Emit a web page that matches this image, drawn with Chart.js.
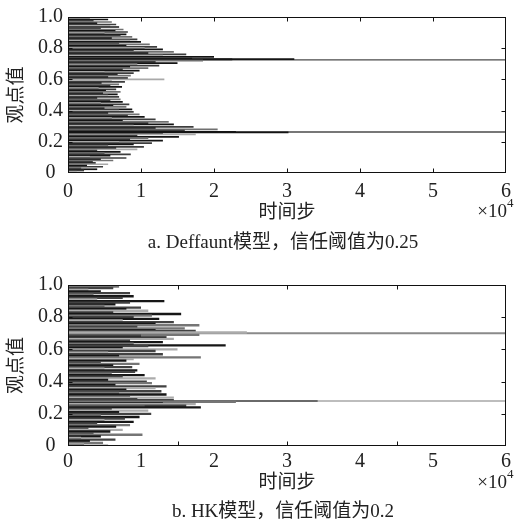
<!DOCTYPE html>
<html>
<head>
<meta charset="utf-8">
<script src="https://cdn.jsdelivr.net/npm/chart.js@4.4.1/dist/chart.umd.min.js"></script>
<style>
  html, body { margin: 0; padding: 0; background: #fff; }
  canvas { display: block; }
</style>
</head>
<body>
<canvas id="deffuant" width="518" height="262"></canvas>
<canvas id="hk" width="518" height="265"></canvas>
<script>
const xTickLabels = ['0', '1', '2', '3', '4', '5', '6'];
const yTickLabels = ['0', '0.2', '0.4', '0.6', '0.8', '1.0'];

// Deffuant model, trust threshold 0.25 -- [opinion, last step (x10^4)]
const deffBlack = [[0.000,0.30],[0.024,0.40],[0.048,0.26],[0.064,0.38],[0.088,0.45],[0.112,0.58],[0.136,0.72],
  [0.160,0.66],[0.184,0.90],[0.208,1.30],[0.232,1.52],[0.256,1.30],[0.260,3.02],[0.264,2.30],[0.288,1.20],
  [0.312,1.45],[0.336,0.75],[0.360,1.05],[0.384,0.55],[0.408,0.88],[0.432,0.62],[0.456,0.75],[0.480,0.40],
  [0.504,0.68],[0.528,0.52],[0.552,0.74],[0.576,0.46],[0.608,0.82],[0.632,0.68],[0.656,0.98],[0.680,0.85],
  [0.704,1.50],[0.728,2.25],[0.730,3.10],[0.744,2.00],[0.768,1.10],[0.792,1.30],[0.816,0.80],[0.840,1.00],
  [0.864,0.60],[0.888,0.80],[0.912,0.65],[0.936,0.70],[0.960,0.40],[0.984,0.55]];
const deffDark = [[0.016,0.22],[0.040,0.48],[0.072,0.34],[0.096,0.80],[0.120,0.86],[0.144,0.40],[0.168,1.04],
  [0.192,1.15],[0.216,0.85],[0.240,0.95],[0.272,1.60],[0.296,1.72],[0.320,1.10],[0.344,1.20],[0.368,0.82],
  [0.392,0.90],[0.416,0.50],[0.440,0.84],[0.464,0.58],[0.488,0.70],[0.512,0.48],[0.536,0.66],[0.560,0.58],
  [0.584,0.78],[0.616,0.55],[0.640,0.90],[0.664,0.75],[0.688,1.25],[0.712,1.20],[0.736,1.70],[0.760,1.62],
  [0.784,0.90],[0.808,1.22],[0.832,0.70],[0.856,0.95],[0.880,0.72],[0.904,0.82],[0.928,0.45],[0.952,0.66],
  [0.976,0.35],[1.000,0.52]];
const deffMid = [[0.032,0.18],[0.080,0.62],[0.128,0.50],[0.176,0.55],[0.224,1.10],[0.280,2.05],[0.328,1.38],
  [0.376,0.98],[0.424,0.80],[0.472,0.72],[0.520,0.72],[0.568,0.70],[0.624,0.86],[0.672,1.10],[0.720,1.85],
  [0.776,1.45],[0.824,1.12],[0.872,0.88],[0.920,0.76],[0.968,0.60]];
const deffLight = [[0.008,0.12],[0.056,0.55],[0.104,0.30],[0.152,0.95],[0.200,0.70],[0.248,1.75],[0.304,0.90],
  [0.352,0.60],[0.400,0.70],[0.448,0.45],[0.496,0.55],[0.544,0.42],[0.592,0.60],[0.600,1.32],[0.648,0.50],
  [0.696,0.95],[0.752,1.30],[0.800,1.05],[0.848,0.85],[0.896,0.50],[0.944,0.58],[0.992,0.30]];
const deffClusters = [[0.725, 6], [0.2625, 6]];

// HK model, trust threshold 0.2
const hkBlack = [[0.00,0.55],[0.03,0.30],[0.06,0.45],[0.09,0.58],[0.12,0.66],[0.15,0.90],[0.18,0.98],[0.21,0.70],
  [0.24,1.82],[0.265,1.30],[0.29,0.95],[0.32,1.35],[0.35,0.80],[0.38,0.65],[0.41,0.55],[0.44,1.05],[0.47,0.95],
  [0.50,0.62],[0.53,0.80],[0.56,0.70],[0.61,0.75],[0.625,2.16],[0.645,1.30],[0.675,1.35],[0.72,1.20],[0.76,1.20],
  [0.79,1.25],[0.82,1.55],[0.85,0.80],[0.88,0.65],[0.90,1.32],[0.93,0.90],[0.96,0.45],[1.00,0.25]];
const hkDark = [[0.04,0.65],[0.08,0.35],[0.11,0.28],[0.14,0.40],[0.17,0.78],[0.20,1.14],[0.23,0.60],[0.25,1.62],
  [0.285,1.45],[0.31,0.85],[0.34,1.28],[0.37,1.35],[0.40,1.08],[0.43,0.75],[0.46,0.92],[0.49,0.88],[0.52,0.45],
  [0.57,1.30],[0.59,1.20],[0.62,1.10],[0.655,0.85],[0.685,1.00],[0.715,1.75],[0.74,0.95],[0.77,1.45],[0.80,0.90],
  [0.83,0.62],[0.86,1.00],[0.89,0.85],[0.92,0.75],[0.95,0.85],[0.98,0.62]];
const hkMid = [[0.02,0.48],[0.07,1.02],[0.13,0.85],[0.19,0.45],[0.245,1.05],[0.275,2.30],[0.33,0.70],[0.39,1.15],
  [0.45,0.60],[0.51,0.98],[0.55,1.82],[0.635,0.90],[0.69,1.80],[0.73,1.60],[0.75,1.80],[0.81,1.15],[0.87,0.50],
  [0.94,0.35],[0.99,0.70]];
const hkLight = [[0.01,0.22],[0.05,0.18],[0.10,0.75],[0.16,0.50],[0.22,1.10],[0.26,1.75],[0.30,1.45],[0.36,1.20],
  [0.42,1.20],[0.48,0.50],[0.54,0.90],[0.58,0.55],[0.60,1.50],[0.665,1.45],[0.705,2.45],[0.78,0.75],[0.84,1.10],
  [0.91,0.40],[0.97,0.28]];
const hkUpper = [[0.70, 6]];
const hkLower = [[0.28, 6]];
const hkLowerEarly = [[0.28, 3.42]];

const SERIF = "'Liberation Serif', 'Noto Sans CJK SC', serif";

// one flat line per agent, from step 0 to its last step;
// sorted by opinion so neighbouring agents overlap in order
function trajectories(groups, width) {
  const all = [];
  groups.forEach(([list, color]) => {
    list.forEach(([op, last]) => all.push({ op, last, color }));
  });
  all.sort((a, b) => a.op - b.op);
  return all.map(t => ({
    data: [{ x: 0, y: t.op }, { x: t.last, y: t.op }],
    showLine: true,
    borderColor: t.color,
    borderWidth: width,
    borderCapStyle: 'butt',
    pointRadius: 0,
    pointHoverRadius: 0
  }));
}

// box, inward ticks, x10^4 and caption
const framePlugin = {
  id: 'frame',
  afterDatasetsDraw(chart, args, opts) {
    const { ctx, chartArea: a, scales: { x, y } } = chart;
    const L = Math.round(a.left) + 0.5, R = Math.round(a.right) - 0.5;
    const T = Math.round(a.top) + 0.5, B = Math.round(a.bottom) - 0.5;
    ctx.save();
    ctx.strokeStyle = '#111';
    ctx.lineWidth = 1;
    ctx.strokeRect(L, T, R - L, B - T);
    ctx.beginPath();
    opts.xMarks.forEach(v => {
      const px = Math.round(x.getPixelForValue(v)) + 0.5;
      ctx.moveTo(px, B); ctx.lineTo(px, B - 4);
      ctx.moveTo(px, T); ctx.lineTo(px, T + 4);
    });
    opts.yMarks.forEach(v => {
      const py = Math.round(y.getPixelForValue(v)) + 0.5;
      ctx.moveTo(L, py); ctx.lineTo(L + 4, py);
      ctx.moveTo(R, py); ctx.lineTo(R - 4, py);
    });
    ctx.stroke();
    ctx.restore();
  },
  afterDraw(chart, args, opts) {
    const { ctx, chartArea: a } = chart;
    ctx.save();
    ctx.fillStyle = '#222';
    ctx.textBaseline = 'middle';
    ctx.font = '19px ' + SERIF;
    ctx.textAlign = 'right';
    ctx.fillText('\u00d710', a.right + 1, a.bottom + opts.expOffset);
    ctx.font = '13px ' + SERIF;
    ctx.textAlign = 'left';
    ctx.fillText('4', a.right + 1, a.bottom + opts.expOffset - 8);
    ctx.font = '19px ' + SERIF;
    ctx.textAlign = 'center';
    ctx.fillText(opts.caption, 283, a.bottom + opts.captionOffset);
    ctx.restore();
  }
};

function makeChart(id, datasets, cfg) {
  return new Chart(document.getElementById(id), {
    type: 'scatter',
    data: { datasets },
    options: {
      responsive: false,
      animation: false,
      events: [],
      layout: { padding: { top: cfg.padTop, right: 12, bottom: cfg.padBottom, left: 0 } },
      plugins: {
        legend: { display: false },
        tooltip: { enabled: false },
        frame: cfg.frame
      },
      scales: {
        x: {
          type: 'linear', min: 0, max: 6,
          afterBuildTicks: s => { s.ticks = xTickLabels.map((_, i) => ({ value: i })); },
          afterFit: s => { s.height = cfg.xHeight; },
          grid: { display: false, drawTicks: false },
          border: { display: false },
          ticks: {
            padding: cfg.xTickPad, maxRotation: 0, autoSkip: false, color: '#222',
            font: { family: SERIF, size: 20 },
            callback: (v, i) => xTickLabels[i]
          },
          title: { display: true, text: '时间步', color: '#222', padding: 0, font: { family: SERIF, size: 19 } }
        },
        y: {
          type: 'linear', min: 0, max: 1,
          afterBuildTicks: s => { s.ticks = yTickLabels.map((_, i) => ({ value: i * 0.2 })); },
          afterFit: s => { s.width = 68; },
          grid: { display: false, drawTicks: false },
          border: { display: false },
          ticks: {
            padding: 5, crossAlign: 'center', color: '#222',
            font: { family: SERIF, size: 20 },
            callback: (v, i) => yTickLabels[i]
          },
          title: { display: true, text: '观点值', color: '#222', padding: { top: 6, bottom: 0 }, font: { family: SERIF, size: 19 } }
        }
      }
    },
    plugins: [framePlugin]
  });
}

// Chart.js paints the first dataset on top, so the long cluster lines go last
makeChart('deffuant', [
  ...trajectories([[deffBlack, '#141414'], [deffDark, '#3d3d3d'], [deffMid, '#707070'], [deffLight, '#a9a9a9']], 1.7),
  ...trajectories([[deffClusters, '#4a4a4a']], 1.4)
], {
  padTop: 12, padBottom: 38, xHeight: 51, xTickPad: 7,
  frame: { xMarks: [1, 2, 3, 4, 5], yMarks: [0.2, 0.4, 0.6, 0.8], caption: 'a. Deffaunt模型，信任阈值为0.25', expOffset: 39, captionOffset: 70 }
});

makeChart('hk', [
  ...trajectories([[hkBlack, '#161616'], [hkDark, '#424242'], [hkMid, '#757575'], [hkLight, '#ababab']], 2.3),
  ...trajectories([[hkLowerEarly, '#6a6a6a']], 2),
  ...trajectories([[hkUpper, '#8a8a8a'], [hkLower, '#bdbdbd']], 2)
], {
  padTop: 23, padBottom: 33, xHeight: 48, xTickPad: 4,
  frame: { xMarks: [1.5, 3, 4.5], yMarks: [0.2, 0.4, 0.6, 0.8], caption: 'b. HK模型，信任阈值为0.2', expOffset: 37, captionOffset: 66 }
});
</script>
</body>
</html>
